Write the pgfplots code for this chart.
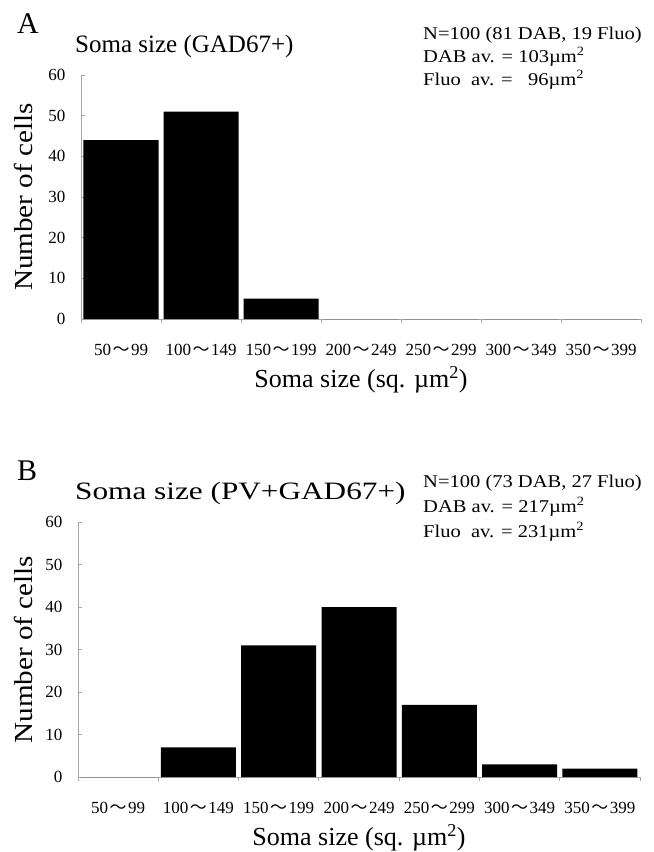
\documentclass[border=0pt]{standalone}
\usepackage{fontspec}
\setmainfont{Liberation Serif}
\newfontfamily\cjk{Noto Sans CJK JP}
\usepackage{graphicx}
\usepackage{pgfplots}
\pgfplotsset{compat=1.18}

\newcommand{\wv}{\kern1.5bp{\cjk 〜}\kern1.5bp}
\newcommand{\fs}[1]{\fontsize{#1bp}{#1bp}\selectfont}
\newcommand{\wide}[2]{\scalebox{#1}[1]{#2}}

\pgfplotsset{
  somahist/.style={
    scale only axis,
    xmin=-0.5, xmax=6.5, ymin=0, ymax=60,
    axis x line*=bottom, axis y line*=left,
    axis line style={gray!70, line width=0.8bp, -},
    tick style={gray!70, line width=0.8bp},
    tick align=inside, major tick length=4bp,
    ytick={0,10,...,60},
    xtick={-0.5,0.5,...,6.5},
    x tick label as interval,
    xticklabels={50\wv99, 100\wv149, 150\wv199, 200\wv249, 250\wv299, 300\wv349, 350\wv399},
    /pgf/number format/assume math mode=true,
    ticklabel style={font=\fs{17}},
    yticklabel style={xshift=-12bp},
    xticklabel style={yshift=-18bp},
    xlabel={Soma size (sq. µm\textsuperscript{2})},
    ylabel={\wide{1.12}{Number of cells}},
    label style={font=\fs{26}},
    xlabel style={yshift=-4bp},
    ybar, bar width=75bp, bar shift=0pt,
  }
}

\begin{document}
\begin{tikzpicture}
\useasboundingbox (0,0) rectangle (654bp,-852bp);

% panel A
\begin{axis}[somahist, width=560bp, height=244bp,
  at={(81bp,-319bp)}, anchor=south west,
  ylabel style={at={(axis description cs:-0.1036,0.5)}, anchor=center}]
  \addplot[fill=black, draw=none]
    coordinates {(0,44) (1,51) (2,5) (3,0) (4,0) (5,0) (6,0)};
\end{axis}
\node[anchor=base west, inner sep=0, font=\fs{30}] at (17bp,-33bp) {A};
\node[anchor=base west, inner sep=0, font=\fs{25}] at (75bp,-52bp) {Soma size (GAD67+)};
\node[anchor=base west, inner sep=0, font=\fs{18}] at (423bp,-39bp) {\wide{1.14}{N=100 (81 DAB, 19 Fluo)}};
\node[anchor=base west, inner sep=0, font=\fs{18}] at (423bp,-62bp) {\wide{1.14}{DAB av. = 103µm\textsuperscript{2}}};
\node[anchor=base west, inner sep=0, font=\fs{18}] at (423bp,-85bp) {\wide{1.14}{Fluo\ \ av. =\ \ \ 96µm\textsuperscript{2}}};

% panel B
\begin{axis}[somahist, width=562bp, height=255bp,
  at={(78bp,-777bp)}, anchor=south west,
  ylabel style={at={(axis description cs:-0.0979,0.5)}, anchor=center}]
  \addplot[fill=black, draw=none]
    coordinates {(0,0) (1,7) (2,31) (3,40) (4,17) (5,3) (6,2)};
\end{axis}
\node[anchor=base west, inner sep=0, font=\fs{30}] at (17bp,-480bp) {B};
\node[anchor=base west, inner sep=0, font=\fs{25}] at (75bp,-499bp) {\wide{1.25}{Soma size (PV+GAD67+)}};
\node[anchor=base west, inner sep=0, font=\fs{18}] at (423bp,-487bp) {\wide{1.14}{N=100 (73 DAB, 27 Fluo)}};
\node[anchor=base west, inner sep=0, font=\fs{18}] at (423bp,-512bp) {\wide{1.14}{DAB av. = 217µm\textsuperscript{2}}};
\node[anchor=base west, inner sep=0, font=\fs{18}] at (423bp,-537bp) {\wide{1.14}{Fluo\ \ av. = 231µm\textsuperscript{2}}};
\end{tikzpicture}
\end{document}
